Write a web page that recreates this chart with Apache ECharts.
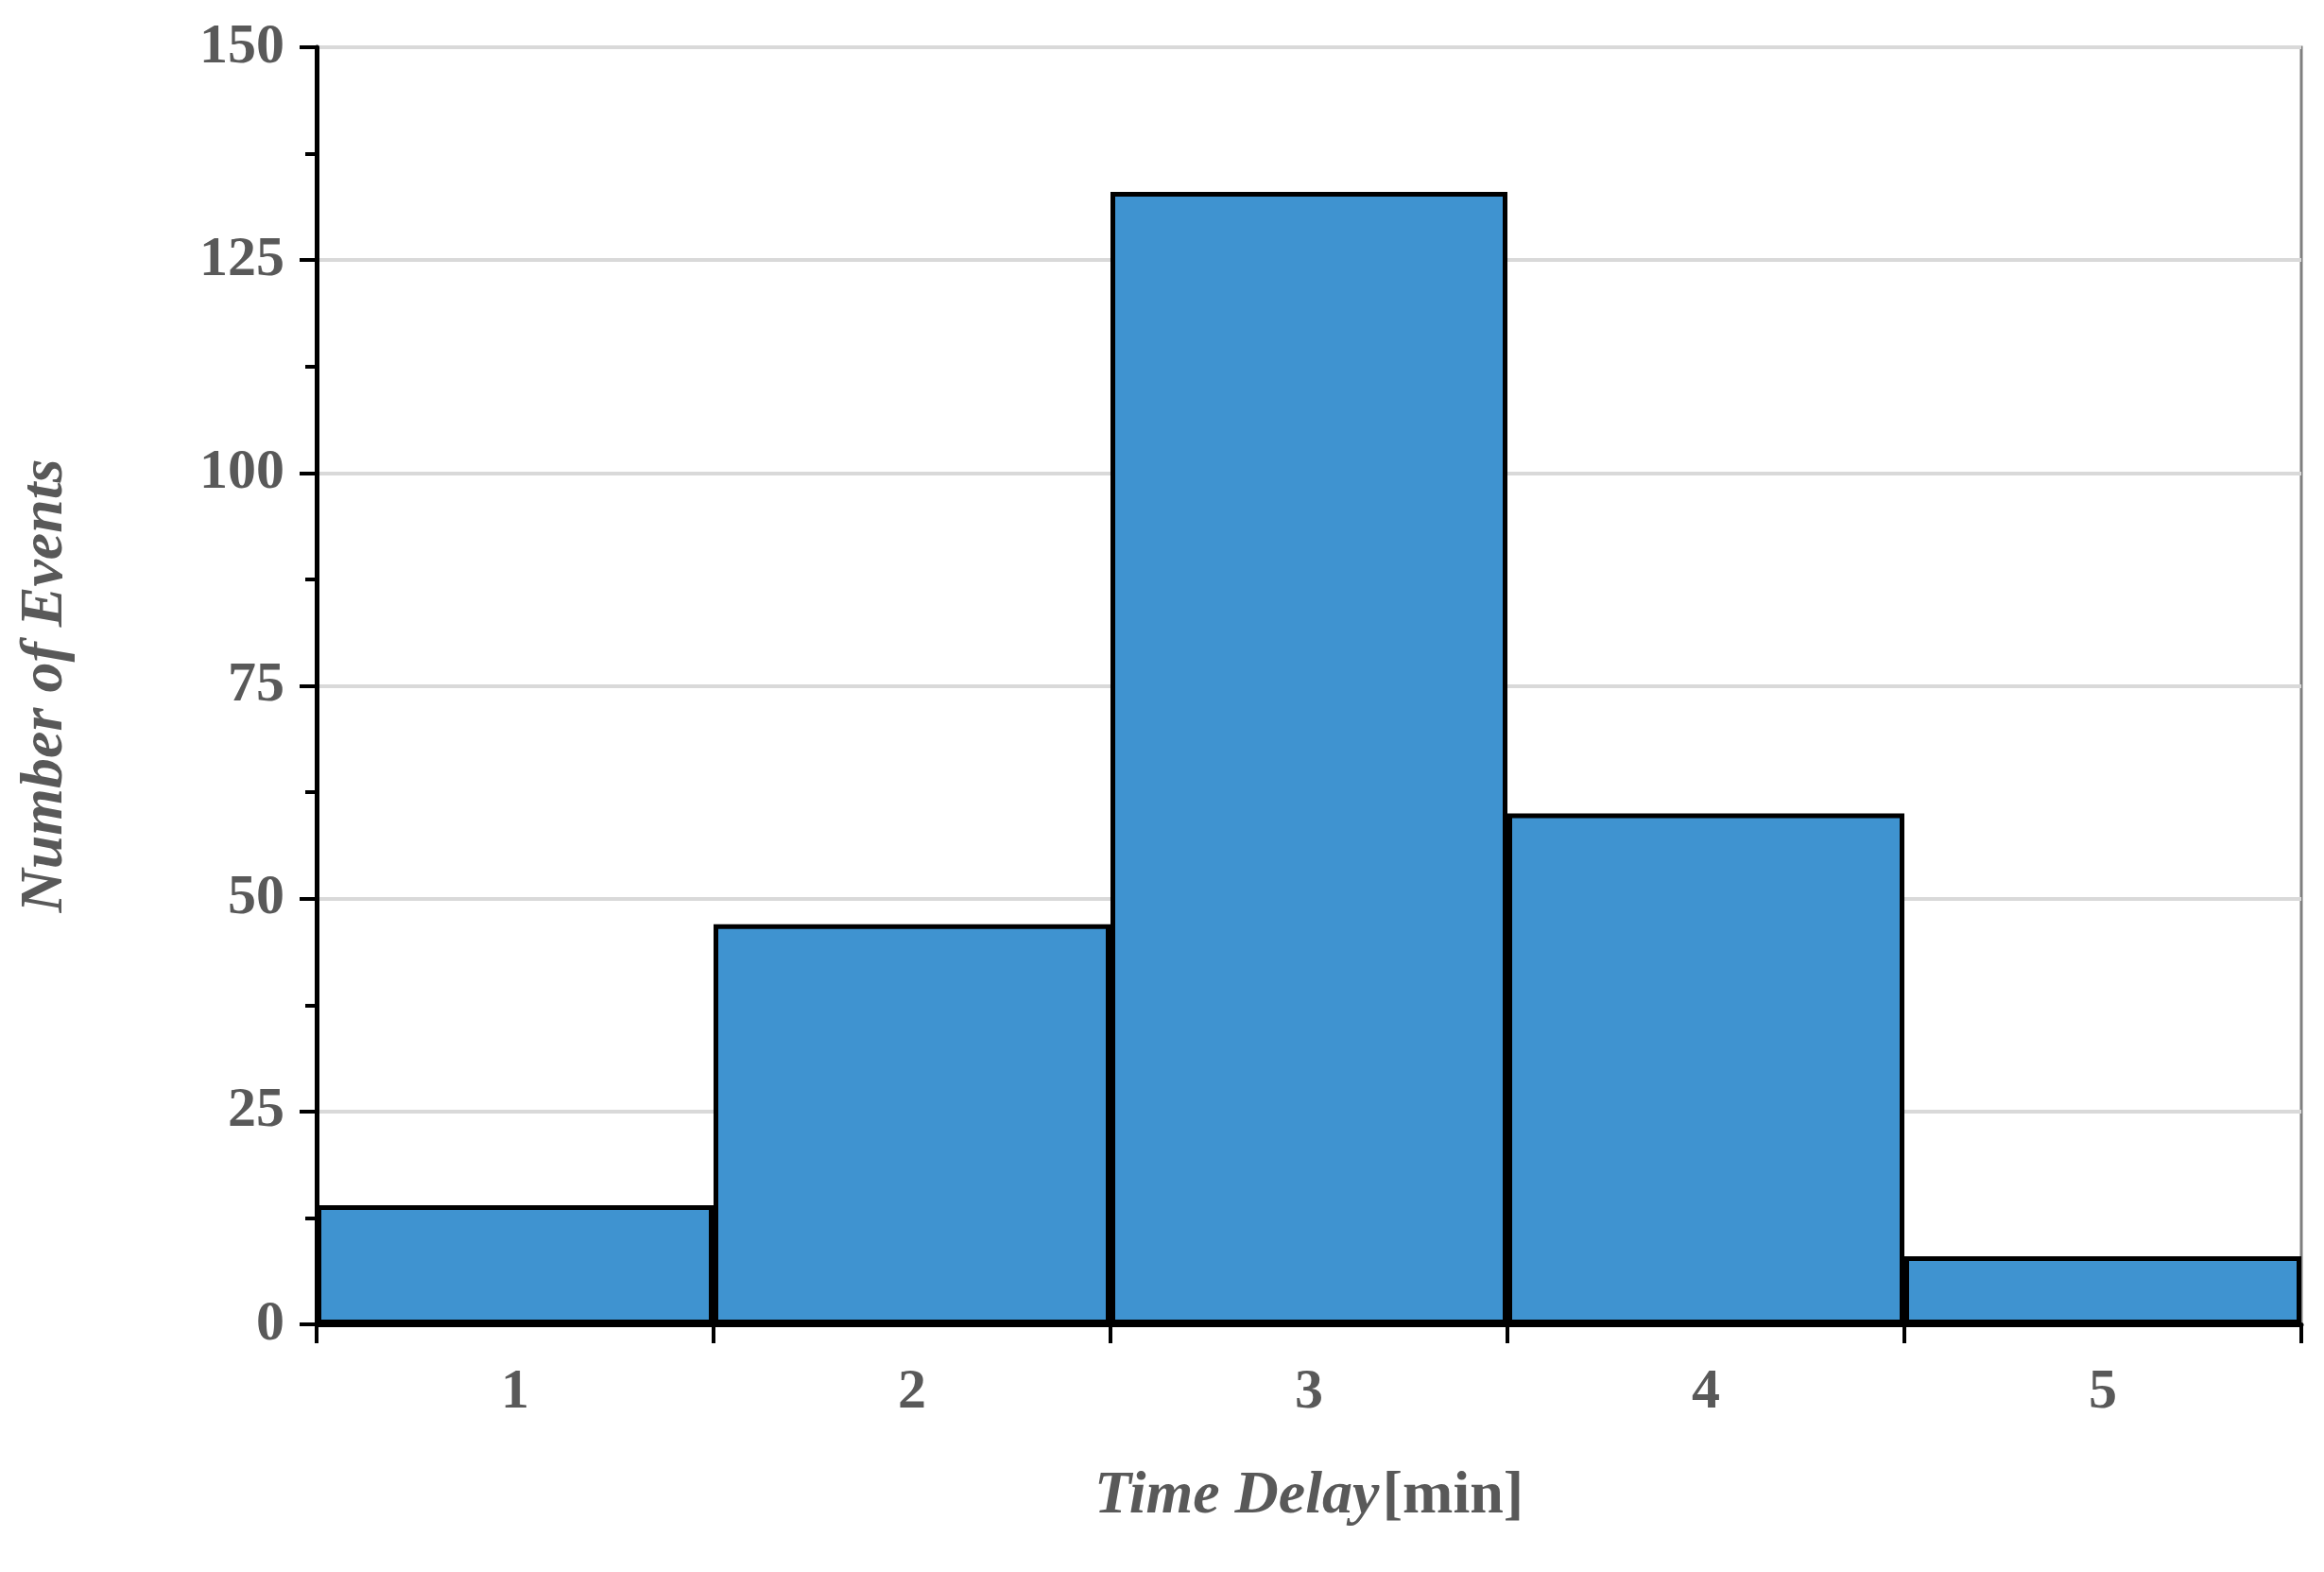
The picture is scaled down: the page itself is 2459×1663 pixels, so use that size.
<!DOCTYPE html>
<html><head><meta charset="utf-8">
<script src="https://cdn.jsdelivr.net/npm/echarts@6/dist/echarts.min.js"></script>
<style>html,body{margin:0;padding:0;background:#fff}#c{width:2459px;height:1663px}</style>
</head><body><div id="c"></div>
<script>
const categories = ['1','2','3','4','5'];
const counts = [14, 47, 133, 60, 8];
const chart = echarts.init(document.getElementById('c'));
const F = '"Liberation Serif","DejaVu Serif",serif';
chart.setOption({
  animation:false,
  grid:{left:335,right:24,top:50,bottom:262,show:true,borderColor:'#7f7f7f',borderWidth:3},
  xAxis:{type:'category',data:categories,boundaryGap:true,
    axisLine:{lineStyle:{color:'#000',width:5}},
    axisTick:{show:true,length:20,lineStyle:{color:'#000',width:4}},
    axisLabel:{color:'#595959',fontFamily:F,fontWeight:'bold',fontSize:60,margin:42},
    name:'{i|Time Delay} {n|[min]}',nameLocation:'middle',nameGap:150,
    nameTextStyle:{rich:{i:{fontFamily:F,fontStyle:'italic',fontWeight:'bold',fontSize:64,color:'#595959'},
      n:{fontFamily:F,fontWeight:'bold',fontSize:64,color:'#595959'}}}},
  yAxis:{type:'value',min:0,max:150,interval:25,
    axisLine:{show:true,lineStyle:{color:'#000',width:5}},
    axisTick:{show:true,length:18,lineStyle:{color:'#000',width:4}},
    minorTick:{show:true,splitNumber:2,length:12,lineStyle:{color:'#000',width:4}},
    splitLine:{lineStyle:{color:'#d9d9d9',width:4}},
    axisLabel:{color:'#595959',fontFamily:F,fontWeight:'bold',fontSize:60,margin:34},
    name:'Number of Events',nameLocation:'middle',nameGap:255,
    nameTextStyle:{fontFamily:F,fontStyle:'italic',fontWeight:'bold',fontSize:64,color:'#595959'}},
  series:[{type:'bar',data:counts,barCategoryGap:'0%',
    itemStyle:{color:'#3f93d0',borderColor:'#000',borderWidth:5}}]
});
</script></body></html>
